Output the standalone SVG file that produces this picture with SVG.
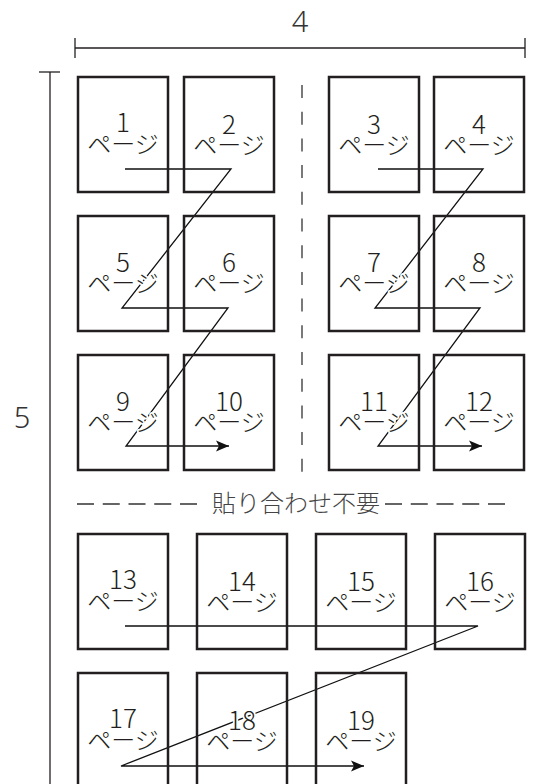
<svg xmlns="http://www.w3.org/2000/svg" width="536" height="784" viewBox="0 0 536 784">
  <style>
    .box { fill: none; stroke: #231f20; stroke-width: 2.5; }
    .lbl { font-family: "Noto Sans CJK JP", "Noto Sans", sans-serif; font-weight: 300; fill: #231f20; text-anchor: middle; stroke: #ffffff; stroke-width: 3.5; paint-order: stroke; stroke-linejoin: round; }
    .num { font-size: 26px; }
    .pg { font-size: 24px; }
    .dim { stroke: #231f20; stroke-width: 1.3; fill: none; }
    .dimtext { font-family: "Noto Sans", "Liberation Sans", sans-serif; font-weight: 300; font-size: 29px; fill: #333333; text-anchor: middle; }
    .cut { stroke: #333333; stroke-width: 1.3; fill: none; }
    .cuttext { font-family: "Noto Sans CJK JP", sans-serif; font-weight: 300; font-size: 24px; fill: #444444; text-anchor: middle; }
    .flow { stroke: #111111; stroke-width: 1.3; fill: none; stroke-linejoin: miter; }
  </style>
  <defs>
    <marker id="ah" markerUnits="userSpaceOnUse" markerWidth="16" markerHeight="14" viewBox="-14 -7 16 14" refX="0" refY="0" orient="auto">
      <path d="M0,0 L-13,-5.5 L-10,0 L-13,5.5 Z" fill="#111111"/>
    </marker>
  </defs>
  <rect width="536" height="784" fill="#ffffff"/>

  <g id="dimensions">
    <line class="dim" x1="75" y1="48" x2="525" y2="48"/>
    <line class="dim" x1="75" y1="38" x2="75" y2="58"/>
    <line class="dim" x1="525" y1="38" x2="525" y2="58"/>
    <text class="dimtext" x="300" y="32">4</text>
    <line class="dim" x1="50" y1="72" x2="50" y2="790"/>
    <line class="dim" x1="39" y1="72" x2="60" y2="72"/>
    <text class="dimtext" x="22" y="428">5</text>
  </g>

  <g id="cut-lines">
    <line class="cut" x1="302" y1="85" x2="302" y2="472" stroke-dasharray="13 13.7"/>
    <line class="cut" x1="77" y1="504" x2="197" y2="504" stroke-dasharray="17 8.75"/>
    <line class="cut" x1="385" y1="504" x2="506" y2="504" stroke-dasharray="17 8.75"/>
    <text class="cuttext" x="296" y="512">貼り合わせ不要</text>
  </g>

  <g id="connectors">
    <path class="flow" d="M125,169 H231 L122,308 H228 L126,446 H229" marker-end="url(#ah)"/>
    <path class="flow" d="M378,169 H483 L375,308 H480 L378,446 H482" marker-end="url(#ah)"/>
    <path class="flow" d="M125,626 H478 L121,766 H364" marker-end="url(#ah)"/>
  </g>

  <g id="page1"><rect class="box" x="78" y="77" width="90" height="115"/><text class="lbl"><tspan class="num" x="123" y="132">1</tspan><tspan class="pg" x="123" y="153">ページ</tspan></text></g>
  <g id="page2"><rect class="box" x="184" y="77" width="90" height="115"/><text class="lbl"><tspan class="num" x="229" y="134">2</tspan><tspan class="pg" x="229" y="154">ページ</tspan></text></g>
  <g id="page3"><rect class="box" x="329" y="77" width="90" height="115"/><text class="lbl"><tspan class="num" x="374" y="134">3</tspan><tspan class="pg" x="374" y="154">ページ</tspan></text></g>
  <g id="page4"><rect class="box" x="434" y="77" width="90" height="115"/><text class="lbl"><tspan class="num" x="479" y="134">4</tspan><tspan class="pg" x="479" y="154">ページ</tspan></text></g>

  <g id="page5"><rect class="box" x="78" y="216" width="90" height="115"/><text class="lbl"><tspan class="num" x="123" y="272">5</tspan><tspan class="pg" x="123" y="292">ページ</tspan></text></g>
  <g id="page6"><rect class="box" x="184" y="216" width="90" height="115"/><text class="lbl"><tspan class="num" x="229" y="272">6</tspan><tspan class="pg" x="229" y="292">ページ</tspan></text></g>
  <g id="page7"><rect class="box" x="329" y="216" width="90" height="115"/><text class="lbl"><tspan class="num" x="374" y="272">7</tspan><tspan class="pg" x="374" y="292">ページ</tspan></text></g>
  <g id="page8"><rect class="box" x="434" y="216" width="90" height="115"/><text class="lbl"><tspan class="num" x="479" y="272">8</tspan><tspan class="pg" x="479" y="292">ページ</tspan></text></g>

  <g id="page9"><rect class="box" x="78" y="355" width="90" height="115"/><text class="lbl"><tspan class="num" x="123" y="411">9</tspan><tspan class="pg" x="123" y="431">ページ</tspan></text></g>
  <g id="page10"><rect class="box" x="184" y="355" width="90" height="115"/><text class="lbl"><tspan class="num" x="229" y="411">10</tspan><tspan class="pg" x="229" y="431">ページ</tspan></text></g>
  <g id="page11"><rect class="box" x="329" y="355" width="90" height="115"/><text class="lbl"><tspan class="num" x="374" y="411">11</tspan><tspan class="pg" x="374" y="431">ページ</tspan></text></g>
  <g id="page12"><rect class="box" x="434" y="355" width="90" height="115"/><text class="lbl"><tspan class="num" x="479" y="411">12</tspan><tspan class="pg" x="479" y="431">ページ</tspan></text></g>

  <g id="page13"><rect class="box" x="78" y="534" width="90" height="115"/><text class="lbl"><tspan class="num" x="123" y="589">13</tspan><tspan class="pg" x="123" y="610">ページ</tspan></text></g>
  <g id="page14"><rect class="box" x="197" y="534" width="90" height="115"/><text class="lbl"><tspan class="num" x="242" y="591">14</tspan><tspan class="pg" x="242" y="611">ページ</tspan></text></g>
  <g id="page15"><rect class="box" x="316" y="534" width="90" height="115"/><text class="lbl"><tspan class="num" x="361" y="591">15</tspan><tspan class="pg" x="361" y="611">ページ</tspan></text></g>
  <g id="page16"><rect class="box" x="435" y="534" width="90" height="115"/><text class="lbl"><tspan class="num" x="480" y="591">16</tspan><tspan class="pg" x="480" y="611">ページ</tspan></text></g>

  <g id="page17"><rect class="box" x="78" y="673" width="90" height="115"/><text class="lbl"><tspan class="num" x="123" y="728">17</tspan><tspan class="pg" x="123" y="749">ページ</tspan></text></g>
  <g id="page18"><rect class="box" x="197" y="673" width="90" height="115"/><text class="lbl"><tspan class="num" x="242" y="730">18</tspan><tspan class="pg" x="242" y="750">ページ</tspan></text></g>
  <g id="page19"><rect class="box" x="316" y="673" width="90" height="115"/><text class="lbl"><tspan class="num" x="361" y="730">19</tspan><tspan class="pg" x="361" y="750">ページ</tspan></text></g>
</svg>
